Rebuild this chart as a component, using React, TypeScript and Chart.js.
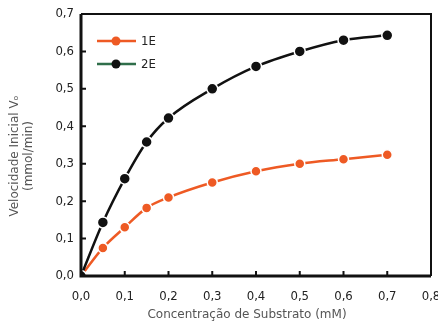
import React, { useEffect, useRef } from "react";
import { Chart, registerables } from "chart.js";

Chart.register(...registerables);

const xValues = [0, 0.05, 0.1, 0.15, 0.2, 0.3, 0.4, 0.5, 0.6, 0.7];
const series1E = [0, 0.075, 0.13, 0.182, 0.21, 0.25, 0.28, 0.3, 0.312, 0.324];
const series2E = [0, 0.143, 0.26, 0.358, 0.422, 0.5, 0.56, 0.6, 0.63, 0.643];
const xTicks = [0, 0.1, 0.2, 0.3, 0.4, 0.5, 0.6, 0.7, 0.8];
const yTicks = [0, 0.1, 0.2, 0.3, 0.4, 0.5, 0.6, 0.7];
const legendLabels = ["1E", "2E"];
const xTitle = "Concentração de Substrato (mM)";
const yTitle = ["Velocidade Inicial Vₒ", "(mmol/min)"];

const ORANGE = "#ee5a24";
const BLACK = "#111111";
const LEGEND_GREEN = "#2f6e4a";
const TICK_FONT = "'DejaVu Sans Condensed', 'DejaVu Sans', sans-serif";
const TITLE_FONT = "'DejaVu Sans', sans-serif";

const fmt = (v: number) => v.toFixed(1).replace(".", ",");

const decor = {
  id: "decor",
  afterDraw(chart: any) {
    const { ctx, chartArea: a, scales } = chart;
    const x = scales.x, y = scales.y;
    ctx.save();
    ctx.strokeStyle = "#111";
    ctx.lineWidth = 2;
    ctx.beginPath();
    ctx.moveTo(a.left, a.top);
    ctx.lineTo(a.right, a.top);
    ctx.lineTo(a.right, a.bottom);
    ctx.stroke();
    ctx.lineWidth = 3;
    ctx.beginPath();
    ctx.moveTo(a.left, a.top);
    ctx.lineTo(a.left, a.bottom);
    ctx.lineTo(a.right, a.bottom);
    ctx.stroke();
    ctx.lineWidth = 2;
    ctx.beginPath();
    xTicks.forEach((t) => {
      if (t === 0 || t === 0.8) return;
      const px = x.getPixelForValue(t);
      ctx.moveTo(px, a.bottom);
      ctx.lineTo(px, a.bottom - 5);
    });
    yTicks.forEach((t) => {
      if (t === 0 || t === 0.7) return;
      const py = y.getPixelForValue(t);
      ctx.moveTo(a.left, py);
      ctx.lineTo(a.left + 5, py);
    });
    ctx.stroke();
    // x title
    ctx.fillStyle = "#555";
    ctx.font = "12px " + TITLE_FONT;
    ctx.textAlign = "center";
    ctx.textBaseline = "middle";
    ctx.fillText(xTitle, 247, 315);
    // y title
    ctx.translate(15, 156);
    ctx.rotate(-Math.PI / 2);
    ctx.fillText(yTitle[0], 0, 0);
    ctx.fillText(yTitle[1], 0, 14);
    ctx.restore();
    ctx.save();
    const items = [
      { label: legendLabels[0], line: ORANGE, dot: ORANGE, y: 41 },
      { label: legendLabels[1], line: LEGEND_GREEN, dot: BLACK, y: 64 },
    ];
    items.forEach((it) => {
      ctx.strokeStyle = it.line;
      ctx.lineWidth = 2.5;
      ctx.beginPath();
      ctx.moveTo(97, it.y);
      ctx.lineTo(136, it.y);
      ctx.stroke();
      ctx.fillStyle = it.dot;
      ctx.beginPath();
      ctx.arc(116, it.y, 4.5, 0, Math.PI * 2);
      ctx.fill();
      ctx.fillStyle = "#222";
      ctx.font = "13px " + TICK_FONT;
      ctx.textAlign = "left";
      ctx.textBaseline = "middle";
      ctx.fillText(it.label, 141, it.y + 1);
    });
    ctx.restore();
  },
};

export default function App() {
  const ref = useRef<HTMLCanvasElement>(null);
  useEffect(() => {
    document.body.style.margin = "0";
    const ctx = ref.current!.getContext("2d")!;
    const mk = (data: number[]) => xValues.map((x, i) => ({ x, y: data[i] }));
    const chart = new Chart(ctx, {
      type: "line",
      data: {
        datasets: [
          {
            label: legendLabels[1],
            data: mk(series2E),
            borderColor: BLACK,
            backgroundColor: BLACK,
            pointBackgroundColor: BLACK,
            pointBorderColor: "#ffffff",
            pointBorderWidth: 1.5,
            pointRadius: 5.5,
            borderWidth: 2.5,
            tension: 0.4,
            cubicInterpolationMode: "monotone",
          },
          {
            label: legendLabels[0],
            data: mk(series1E),
            borderColor: ORANGE,
            backgroundColor: ORANGE,
            pointBackgroundColor: ORANGE,
            pointBorderColor: "#ffffff",
            pointBorderWidth: 1.5,
            pointRadius: 5,
            borderWidth: 2.5,
            tension: 0.4,
            cubicInterpolationMode: "monotone",
          },
        ],
      },
      options: {
        responsive: false,
        animation: false,
        layout: { padding: { left: 0, top: 14, right: 2, bottom: 0 } },
        plugins: { legend: { display: false }, tooltip: { enabled: false } },
        scales: {
          x: {
            type: "linear",
            min: 0,
            max: 0.8,
            afterBuildTicks: (s: any) => {
              s.ticks = xTicks.map((v) => ({ value: v }));
            },
            afterFit: (s: any) => {
              s.height = 48;
              s.paddingLeft = 0;
              s.paddingRight = 0;
            },
            grid: { display: false, drawTicks: false },
            border: { display: false },
            ticks: {
              callback: (v: any) => fmt(Number(v)),
              color: "#222",
              padding: 13,
              font: { family: TICK_FONT, size: 13 },
              maxRotation: 0,
            },
          },
          y: {
            type: "linear",
            min: 0,
            max: 0.7,
            afterBuildTicks: (s: any) => {
              s.ticks = yTicks.map((v) => ({ value: v }));
            },
            afterFit: (s: any) => {
              s.width = 81;
              s.paddingTop = 0;
              s.paddingBottom = 0;
            },
            grid: { display: false, drawTicks: false },
            border: { display: false },
            ticks: {
              callback: (v: any) => fmt(Number(v)),
              color: "#222",
              padding: 7,
              font: { family: TICK_FONT, size: 13 },
            },
          },
        },
      },
      plugins: [decor],
    } as any);
    return () => chart.destroy();
  }, []);
  return <canvas ref={ref} width={438} height={324} style={{ display: "block" }} />;
}
